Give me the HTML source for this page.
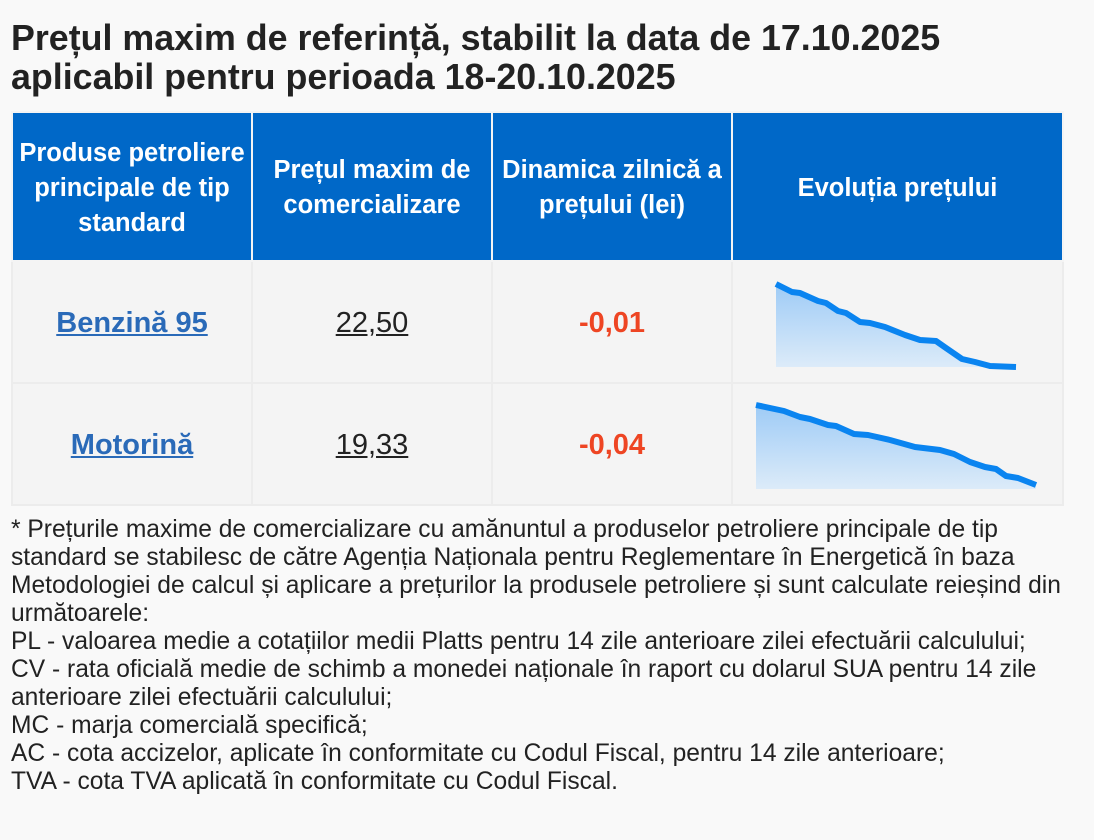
<!DOCTYPE html>
<html><head><meta charset="utf-8"><style>
body{margin:0;background:#f9f9f9;width:1094px;height:840px;overflow:hidden;font-family:"Liberation Sans",sans-serif;}
h1{position:absolute;left:11px;top:19px;margin:0;font-size:35.8px;line-height:39px;font-weight:bold;color:#222;white-space:nowrap;}
table{position:absolute;left:11px;top:111px;border-collapse:collapse;width:1051px;table-layout:fixed;}
th{background:#0068c8;color:#fff;font-size:25.5px;font-weight:bold;line-height:35px;height:144px;border:2px solid #f4f4f4;padding:3px 2px 0;}
td{background:#f4f4f4;border:2px solid #ececec;text-align:center;font-size:29px;height:117px;padding:3px 0 0;}
a{color:#2a6ab8;font-weight:bold;}
.p{color:#222;text-decoration:underline;}
.r{color:#ee4523;font-weight:bold;}
.f{position:absolute;left:11px;top:516px;font-size:24.6px;line-height:28px;color:#222;white-space:nowrap;}
</style></head><body>
<h1>Prețul maxim de referință, stabilit la data de 17.10.2025<br>aplicabil pentru perioada 18-20.10.2025</h1>
<table>
<colgroup><col style="width:240px"><col style="width:240px"><col style="width:240px"><col style="width:331px"></colgroup>
<tr><th>Produse petroliere principale de tip standard</th><th>Prețul maxim de comercializare</th><th>Dinamica zilnică a prețului (lei)</th><th>Evoluția prețului</th></tr>
<tr><td><a href="#">Benzină 95</a></td><td class="p">22,50</td><td class="r">-0,01</td><td></td></tr>
<tr><td><a href="#">Motorină</a></td><td class="p">19,33</td><td class="r">-0,04</td><td></td></tr>
</table>
<svg style="position:absolute;left:0;top:0" width="1094" height="840">
<defs><linearGradient id="g" x1="0" y1="0" x2="0" y2="1"><stop offset="0" stop-color="#9ecbf6"/><stop offset="1" stop-color="#dcebf9"/></linearGradient></defs>
<path d="M776,284 L792,292 800,293 818,301 826,303 838,311 846,313 860,322 870,323 885,327 905,335 920,340 936,341 946,348 962,359 975,362 990,366 1016,367 L1016,367 776,367Z" fill="url(#g)"/>
<polyline points="776,284 792,292 800,293 818,301 826,303 838,311 846,313 860,322 870,323 885,327 905,335 920,340 936,341 946,348 962,359 975,362 990,366 1016,367" fill="none" stroke="#0a84f0" stroke-width="6" stroke-linejoin="round"/>
<path d="M756,405 L784,411 800,417 810,419 828,425 836,426 854,434 868,435 890,440 915,447 940,450 954,454 970,462 985,467 996,469 1006,476 1018,478 1036,485 L1036,489 756,489Z" fill="url(#g)"/>
<polyline points="756,405 784,411 800,417 810,419 828,425 836,426 854,434 868,435 890,440 915,447 940,450 954,454 970,462 985,467 996,469 1006,476 1018,478 1036,485" fill="none" stroke="#0a84f0" stroke-width="6" stroke-linejoin="round"/>
</svg>
<div class="f">* Prețurile maxime de comercializare cu amănuntul a produselor petroliere principale de tip<br>standard se stabilesc de către Agenția Naționala pentru Reglementare în Energetică în baza<br>Metodologiei de calcul și aplicare a prețurilor la produsele petroliere și sunt calculate reieșind din<br>următoarele:<br>PL - valoarea medie a cotațiilor medii Platts pentru 14 zile anterioare zilei efectuării calculului;<br>CV - rata oficială medie de schimb a monedei naționale în raport cu dolarul SUA pentru 14 zile<br>anterioare zilei efectuării calculului;<br>MC - marja comercială specifică;<br>AC - cota accizelor, aplicate în conformitate cu Codul Fiscal, pentru 14 zile anterioare;<br>TVA - cota TVA aplicată în conformitate cu Codul Fiscal.</div>
</body></html>
